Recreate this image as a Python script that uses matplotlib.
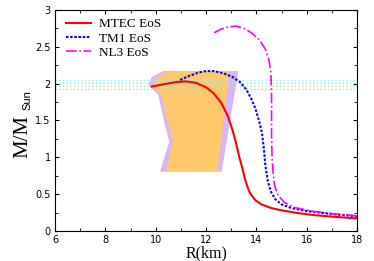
import matplotlib
matplotlib.use("Agg")
import matplotlib.pyplot as plt
from matplotlib.ticker import MultipleLocator, FormatStrFormatter

# mass-radius curves (R in km, M in solar masses)
mtec_r = [9.84, 10.3, 10.8, 11.2, 11.6, 12.0, 12.3, 12.6, 12.85, 13.05, 13.2,
          13.32, 13.42, 13.52, 13.62, 13.75, 13.95, 14.2, 14.6, 15.0, 15.6,
          16.3, 17.0, 18.0]
mtec_m = [1.96, 1.99, 2.02, 2.03, 2.01, 1.95, 1.87, 1.74, 1.57, 1.37, 1.18,
          1.0, 0.88, 0.74, 0.62, 0.51, 0.42, 0.36, 0.31, 0.28, 0.245,
          0.215, 0.195, 0.17]

tm1_r = [10.97, 11.3, 11.7, 12.0, 12.3, 12.7, 13.05, 13.35, 13.6, 13.8, 13.95,
         14.1, 14.22, 14.3, 14.35, 14.45, 14.58, 14.75, 15.0, 15.4, 16.0,
         17.0, 18.0]
tm1_m = [2.05, 2.1, 2.15, 2.17, 2.17, 2.14, 2.09, 2.02, 1.92, 1.79, 1.67,
         1.5, 1.33, 1.1, 0.9, 0.68, 0.53, 0.43, 0.36, 0.31, 0.27,
         0.23, 0.20]

nl3_r = [12.32, 12.6, 12.9, 13.2, 13.5, 13.8, 14.1, 14.35, 14.5, 14.57, 14.6,
         14.6, 14.6, 14.62, 14.66, 14.72, 14.85, 15.1, 15.5, 16.2, 17.0, 18.0]
nl3_m = [2.69, 2.74, 2.77, 2.78, 2.75, 2.69, 2.6, 2.47, 2.32, 2.15, 1.9,
         1.6, 1.3, 1.0, 0.8, 0.62, 0.49, 0.39, 0.32, 0.27, 0.235, 0.205]

# constraint regions
outer_r = [10.30, 13.28, 12.62, 10.17, 10.54, 10.34, 10.10, 9.71, 9.84]
outer_m = [2.17, 2.17, 0.805, 0.805, 1.21, 1.48, 1.85, 1.98, 2.09]
inner_r = [10.46, 12.93, 12.75, 12.45, 10.41, 10.68, 10.46, 10.24, 9.91, 10.04]
inner_m = [2.17, 2.17, 1.64, 0.805, 0.805, 1.23, 1.51, 1.82, 1.98, 2.07]

# pulsar mass bounds
cyan_levels = [2.05, 2.01]
green_levels = [1.97, 1.93]

fig = plt.figure(figsize=(3.74, 2.61), dpi=100)
ax = fig.add_axes([0.147, 0.115, 0.808, 0.847])

ax.fill(outer_r, outer_m, color='#d8b4f8', lw=0)
ax.fill(inner_r, inner_m, color='#fec96a', lw=0)

for lv in cyan_levels:
    ax.axhline(lv, color='#7ff5f5', ls=':', lw=1.0)
for lv in green_levels:
    ax.axhline(lv, color='#b8dcb0', ls=':', lw=1.0)

ax.plot(mtec_r, mtec_m, color='red', lw=1.5, label='MTEC EoS')
ax.plot(tm1_r, tm1_m, color='blue', lw=1.5, ls=(0, (1.2, 0.8)),
        label='TM1 EoS')
ax.plot(nl3_r, nl3_m, color='magenta', lw=1.2, ls='-.', label='NL3 EoS')

ax.set_xlim(6, 18)
ax.set_ylim(0, 3)
ax.xaxis.set_major_locator(MultipleLocator(2))
ax.xaxis.set_minor_locator(MultipleLocator(1))
ax.yaxis.set_major_locator(MultipleLocator(0.5))
ax.yaxis.set_minor_locator(MultipleLocator(0.25))
ax.yaxis.set_major_formatter(FormatStrFormatter('%g'))
ax.tick_params(which='both', direction='in', top=True, right=True,
               labelsize=7, pad=3)
ax.tick_params(which='major', length=3)
ax.tick_params(which='minor', length=2)
for s in ax.spines.values():
    s.set_linewidth(0.8)

ax.set_xlabel('R(km)', family='Liberation Serif', fontsize=11.5, labelpad=0)

# y label: serif M/M with a sans "Sun" subscript
fig.text(0.0722, 0.3946, 'M/M', family='Liberation Serif', fontsize=15,
         rotation=90, rotation_mode='anchor', ha='left', va='baseline')
fig.text(0.081, 0.5785, 'Sun', family='Liberation Sans', fontsize=8,
         rotation=90, rotation_mode='anchor', ha='left', va='baseline')

ax.legend(loc='upper left', frameon=False, prop={'family': 'Liberation Serif',
          'size': 9.5}, handlelength=1.9, handletextpad=0.55,
          labelspacing=0.15, bbox_to_anchor=(0.007, 1.005), borderpad=0.2)

plt.savefig("out.png", dpi=100)
